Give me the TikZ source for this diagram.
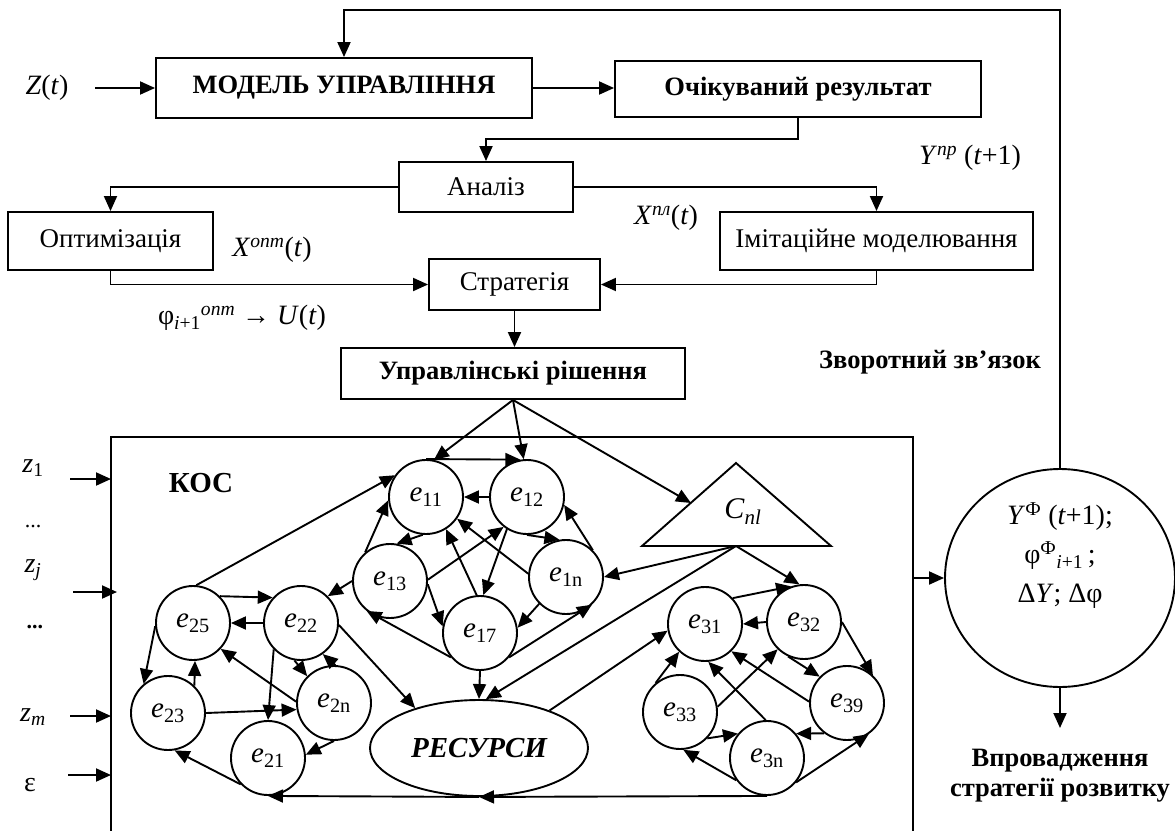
\documentclass[tikz,border=0pt]{standalone}
\usepackage{fontspec}
\setmainfont{Liberation Serif}
\usetikzlibrary{arrows.meta,shapes.geometric}
\begin{document}
\begin{tikzpicture}[x=1pt,y=-1pt,line width=1.9pt,line join=miter,
  arr/.style={-{Triangle[length=15pt,width=13pt]}},
  box/.style={draw,rectangle,inner sep=0pt,font=\fontsize{27}{30}\selectfont},
  bbox/.style={box,font=\fontsize{26.5}{30}\selectfont\bfseries},
  el/.style={draw,circle,minimum size=74pt,inner sep=0pt,font=\fontsize{29}{30}\selectfont},
  lbl/.style={inner sep=0pt,font=\fontsize{28}{32}\selectfont},
  blbl/.style={inner sep=0pt,font=\fontsize{26.5}{30}\selectfont\bfseries,align=center}]
\useasboundingbox (0,0) rectangle (1175,830);

% ---- top blocks
\node[bbox,minimum width=376pt,minimum height=60pt] (model) at (344,88) {МОДЕЛЬ УПРАВЛІННЯ};
\node[bbox,minimum width=366pt,minimum height=56pt] (result) at (798,89) {Очікуваний результат};
\node[box,minimum width=174pt,minimum height=50pt] (analiz) at (486,187) {Аналіз};
\node[box,minimum width=205pt,minimum height=58pt] (optim) at (110.5,241) {Оптимізація};
\node[box,minimum width=313pt,minimum height=58pt] (imit) at (876.5,241) {Імітаційне моделювання};
\node[box,minimum width=171pt,minimum height=51pt] (strat) at (514.5,284.5) {Стратегія};
\node[bbox,minimum width=344pt,minimum height=51pt] (upr) at (513,373.5) {Управлінські рішення};

% ---- labels
\node[lbl] (zt) at (47,88) {\textit{Z}(\textit{t})};
\node[lbl] (xopt) at (272,250) {\textit{X}\textsuperscript{\textit{опт}}(\textit{t})};
\node[lbl] (xpl) at (666,218) {\textit{X}\textsuperscript{\textit{пл}}(\textit{t})};
\node[lbl] (phi) at (242,318) {φ\textsubscript{\textit{i}+1}\textsuperscript{\textit{опт}} → \textit{U}(\textit{t})};
\node[lbl] (ypr) at (970,158) {\textit{Y}\textsuperscript{\textit{пр}} (\textit{t}+1)};
\node[blbl] (zz) at (930,362) {Зворотний зв’язок};
\node[blbl] (vpr) at (1060,776) {Впровадження\\стратегії розвитку};

% ---- top connectors
\coordinate (zs) at (95,88);
\coordinate (fbR) at (1060,10);
\coordinate (fbL) at (344,10);
\coordinate (ra) at (486,139);
\draw[arr] (zs) -- (model.west);
\draw[arr] (model.east) -- (model.east -| result.west);
\draw[arr] (result.south) |- (ra) -- (analiz.north);
\draw[arr] (analiz.west) -| (optim.north);
\draw[arr] (analiz.east) -| (imit.north);
\draw[arr] (optim.south) |- (strat.west);
\draw[arr] (imit.south) |- (strat.east);
\draw[arr] (strat.south) -- (strat.south |- upr.north);

% ---- KOC frame
\coordinate (k1) at (111,835);
\coordinate (k2) at (111,437);
\coordinate (k3) at (913,437);
\coordinate (k4) at (913,835);
\draw (k1) -- (k2) -- (k3) -- (k4);
\node[inner sep=0pt,font=\fontsize{29}{30}\selectfont\bfseries] (koc) at (201,483) {КОС};

% ---- inputs
\node[lbl] (lz1) at (33,468) {\textit{z}\textsubscript{1}};
\node[inner sep=0pt,font=\fontsize{22}{24}\selectfont] (ld1) at (33,527) {...};
\node[lbl] (lzj) at (33,570) {\textit{z}\textsubscript{\textit{j}}};
\node[inner sep=0pt,font=\fontsize{22}{24}\selectfont\bfseries] (ld2) at (35,627) {...};
\node[lbl] (lzm) at (33,717) {\textit{z}\textsubscript{\textit{m}}};
\node[lbl] (leps) at (30,785) {ε};
\coordinate (i1s) at (70,479);  \coordinate (i1e) at (111,479);
\coordinate (i2s) at (73,592);  \coordinate (i2e) at (117,592);
\coordinate (i3s) at (70,716);  \coordinate (i3e) at (111,716);
\coordinate (i4s) at (68,775);  \coordinate (i4e) at (111,775);
\draw[arr] (i1s) -- (i1e);
\draw[arr] (i2s) -- (i2e);
\draw[arr] (i3s) -- (i3e);
\draw[arr] (i4s) -- (i4e);

% ---- element nodes
\node[el] (e11) at (426,497) {\textit{e}\textsubscript{11}};
\node[el] (e12) at (527,497) {\textit{e}\textsubscript{12}};
\node[el] (e13) at (390,581) {\textit{e}\textsubscript{13}};
\node[el] (e1n) at (566,577) {\textit{e}\textsubscript{1n}};
\node[el] (e17) at (480,633) {\textit{e}\textsubscript{17}};
\node[el] (e25) at (193,623) {\textit{e}\textsubscript{25}};
\node[el] (e22) at (301,623) {\textit{e}\textsubscript{22}};
\node[el] (e23) at (168,713) {\textit{e}\textsubscript{23}};
\node[el] (e2n) at (334,703) {\textit{e}\textsubscript{2n}};
\node[el] (e21) at (268,758) {\textit{e}\textsubscript{21}};
\node[el] (e31) at (705,624) {\textit{e}\textsubscript{31}};
\node[el] (e32) at (804,622) {\textit{e}\textsubscript{32}};
\node[el] (e33) at (680,712) {\textit{e}\textsubscript{33}};
\node[el] (e39) at (847,703) {\textit{e}\textsubscript{39}};
\node[el] (e3n) at (767,758) {\textit{e}\textsubscript{3n}};
\node[draw,ellipse,minimum width=218pt,minimum height=96pt,inner sep=0pt,
      font=\fontsize{29}{30}\selectfont\bfseries\itshape] (res) at (479,748) {РЕСУРСИ};

% ---- C_nl triangle
\coordinate (cA) at (736,463);
\coordinate (cL) at (642,546);
\coordinate (cR) at (831,546);
\coordinate (cB) at (736,546);
\coordinate (cS) at (691,503);
\draw (cA) -- (cL) -- (cR) -- cycle;
\node[lbl,font=\fontsize{30}{32}\selectfont] (cnl) at (743,512) {\textit{C}\textsubscript{\textit{nl}}};

% ---- big result circle
\node[draw,ellipse,minimum width=230pt,minimum height=218pt,inner sep=0pt] (big) at (1060,578) {};
\node[inner sep=0pt,align=center,font=\fontsize{28}{39}\selectfont] (bigt) at (1060,556)
  {\textit{Y}\textsuperscript{Ф} (\textit{t}+1);\\φ\textsuperscript{Ф}\textsubscript{\textit{i}+1}\,;\\Δ\textit{Y}; Δφ};
\coordinate (kr) at (913,578);
\coordinate (bd) at (1060,728);
\draw[arr] (kr) -- (big.west);
\draw[arr] (big.south) -- (bd);
\draw[arr] (big.north) -- (fbR) -- (fbL) -- (model.north);

% ---- decisions into KOC
\draw[arr] (upr.south) -- (e11.78);
\draw[arr] (upr.south) -- (e12.95);
\draw[arr] (upr.south) -- (cS);

% ---- cluster 1
\draw[arr] (e11.north) -- (e12.100);
\draw[arr] (e12.west) -- (e11.east);
\draw[arr] (e12.south) -- (e1n.100);
\draw[arr] (e1n.45) -- (e12.-12);
\draw[arr] (e11.-95) -- (e13.80);
\draw[arr] (e13.131) -- (e11.185);
\draw[arr] (e13.2) -- (e12.-128);
\draw[arr] (e12.-122) -- (e17.85);
\draw[arr] (e17.95) -- (e11.-58);
\draw[arr] (e1n.175) -- (e11.-35);
\draw[arr] (e13.-5) -- (e17.170);
\draw[arr] (e1n.-135) -- (e17.8);
\draw[arr] (e17.-140) -- (e13.-128);
\draw[arr] (e17.-40) -- (e1n.-47);
\draw[arr] (e17.south) -- (res.north);
\draw[arr] (cB) -- (res.82);
\draw[arr] (cB) -- (e1n.east);
\draw[arr] (cB) -- (e32.97);
\draw[arr] (res.28) -- (e31.190);
\draw[arr] (e13.west) -- (e22.45);
\draw[arr] (e25.85) -- (e11.145);
\draw[arr] (e22.-3) -- (res.148);

% ---- cluster 2
\draw[arr] (e25.45) -- (e22.138);
\draw[arr] (e22.west) -- (e25.east);
\draw[arr] (e25.185) -- (e23.130);
\draw[arr] (e23.46) -- (e25.-87);
\draw[arr] (e2n.178) -- (e25.-43);
\draw[arr] (e23.east) -- (e2n.190);
\draw[arr] (e22.-136) -- (e21.north);
\draw[arr] (e22.-100) -- (e2n.135);
\draw[arr] (e2n.88) -- (e22.-55);
\draw[arr] (e2n.south) -- (e21.5);
\draw[arr] (e21.-136) -- (e23.-80);
\draw[arr] (res.south) -- (e21.south);
\draw[arr] (e3n.south) -- (res.south);

% ---- cluster 3
\draw[arr] (e31.43) -- (e32.110);
\draw[arr] (e32.west) -- (e31.east);
\draw[arr] (e32.east) -- (e39.47);
\draw[arr] (e32.-115) -- (e39.136);
\draw[arr] (e39.178) -- (e31.-46);
\draw[arr] (e3n.92) -- (e31.-85);
\draw[arr] (e33.130) -- (e31.-133);
\draw[arr] (e33.8) -- (e32.-134);
\draw[arr] (e33.-44) -- (e3n.140);
\draw[arr] (e39.-127) -- (e3n.40);
\draw[arr] (e3n.-144) -- (e33.-85);
\draw[arr] (e3n.-40) -- (e39.-55);
\end{tikzpicture}
\end{document}
